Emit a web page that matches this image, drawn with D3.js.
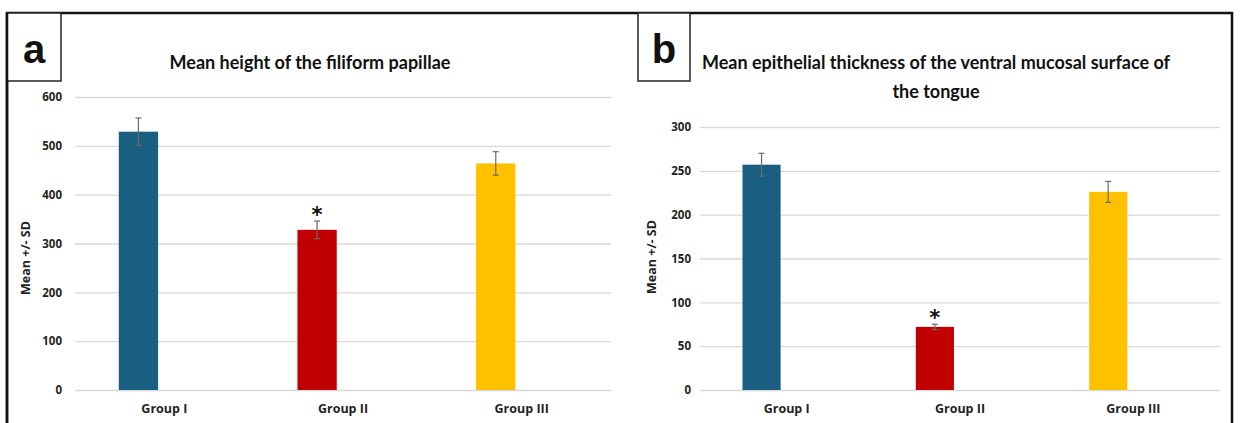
<!DOCTYPE html>
<html>
<head>
<meta charset="utf-8">
<script src="https://cdn.jsdelivr.net/npm/d3@7"></script>
<style>
  body { margin: 0; background: #fff; }
  svg { display: block; }
  .tick text { font-family: "Open Sans", sans-serif; font-weight: 700; fill: #1f1f1f; }
</style>
</head>
<body>
<svg id="chart" width="1242" height="423"></svg>
<script>
// categories + series
const GROUPS = ["Group I", "Group II", "Group III"]
const BAR_COLORS = ["#1a5e82", "#c00000", "#ffc000"]
const SIGNIFICANT = [false, true, false]

// panel a: filiform papillae height
const heightMeans = [529, 328, 464]
const heightSDs = [28, 18, 24]
const heightTicks = [0, 100, 200, 300, 400, 500, 600]

// panel b: ventral epithelium thickness
const thicknessMeans = [257, 72, 226]
const thicknessSDs = [13, 3, 12]
const thicknessTicks = [0, 50, 100, 150, 200, 250, 300]

const svg = d3.select("#chart")

//Outer frame (open at the bottom, like the cropped figure)
svg.append("path")
  .attr("d", "M7,423 L7,13 L1232,13 L1232,423")
  .attr("fill", "none")
  .attr("stroke", "#111")
  .attr("stroke-width", 2.5)

function drawPanel(p){
  var g = svg.append("g")

  var x = d3.scaleBand().domain(GROUPS).range([p.left, p.right])
  var y = d3.scaleLinear().domain([0, d3.max(p.ticks)]).range([p.bottom, p.top])

  //gridlines + y tick labels
  var yAxis = g.append("g")
    .attr("transform", "translate(" + p.left + ",0)")
    .call(d3.axisLeft(y).tickValues(p.ticks).tickSize(-(p.right - p.left)).tickPadding(p.tickPad))
  yAxis.select(".domain").remove()
  yAxis.selectAll(".tick line").attr("stroke", "#d9d9d9").attr("stroke-width", 1.3)
  yAxis.selectAll(".tick text").attr("font-size", 11.5)

  //category labels
  var xAxis = g.append("g")
    .attr("transform", "translate(0," + p.bottom + ")")
    .call(d3.axisBottom(x).tickSize(0).tickPadding(14))
  xAxis.select(".domain").remove()
  xAxis.selectAll(".tick text").attr("font-size", 12.5)

  //bars sit left of the category centre (Excel cluster with one series)
  var bw = x.bandwidth()
  var barX = i => x(GROUPS[i]) + bw * 0.245
  var barW = bw * 0.22

  g.selectAll("rect.bar")
    .data(p.means)
    .enter()
    .append("rect")
      .attr("class", "bar")
      .attr("x", (d, i) => barX(i))
      .attr("width", barW)
      .attr("y", d => y(d))
      .attr("height", d => y(0) - y(d))
      .attr("fill", (d, i) => BAR_COLORS[i])

  //error bars
  p.means.forEach((m, i) => {
    var cx = barX(i) + barW / 2
    var sd = p.sds[i]
    var eb = g.append("g").attr("stroke", "#6b6b6b").attr("stroke-width", 1.2)
    eb.append("line").attr("x1", cx).attr("x2", cx).attr("y1", y(m - sd)).attr("y2", y(m + sd))
    eb.append("line").attr("x1", cx - 3).attr("x2", cx + 3).attr("y1", y(m + sd)).attr("y2", y(m + sd))
    eb.append("line").attr("x1", cx - 3).attr("x2", cx + 3).attr("y1", y(m - sd)).attr("y2", y(m - sd))

    if(SIGNIFICANT[i]){
      g.append("text")
        .attr("x", cx)
        .attr("y", y(m + sd) + 1)
        .attr("text-anchor", "middle")
        .attr("font-family", "DejaVu Sans, sans-serif")
        .attr("font-weight", "bold")
        .attr("font-size", 21)
        .attr("fill", "#111")
        .text("*")
    }
  })

  //y axis title
  g.append("text")
    .attr("transform", "translate(" + p.yTitleX + "," + p.yTitleY + ")rotate(-90)")
    .attr("text-anchor", "middle")
    .attr("font-family", "Open Sans, sans-serif")
    .attr("font-weight", 700)
    .attr("font-size", 12.5)
    .attr("fill", "#1f1f1f")
    .text("Mean +/- SD")

  //chart title
  p.title.forEach((line, k) => {
    g.append("text")
      .attr("x", p.titleX)
      .attr("y", p.titleY + k * 29)
      .attr("text-anchor", "middle")
      .attr("font-family", "Lato, sans-serif")
      .attr("font-weight", "bold")
      .attr("font-size", 18)
      .attr("fill", "#111")
      .text(line)
  })

  //panel letter box
  g.append("rect")
    .attr("x", p.boxX).attr("y", 13)
    .attr("width", p.boxW).attr("height", 68)
    .attr("fill", "#fff")
    .attr("stroke", "#222")
    .attr("stroke-width", 1.5)
  g.append("text")
    .attr("x", p.boxX + p.boxW / 2)
    .attr("y", 63)
    .attr("text-anchor", "middle")
    .attr("font-family", "Liberation Sans, Arial, sans-serif")
    .attr("font-weight", "bold")
    .attr("font-size", 40)
    .attr("fill", "#111")
    .text(p.letter)
}

drawPanel({
  letter: "a", boxX: 7, boxW: 54,
  title: ["Mean height of the filiform papillae"], titleX: 310, titleY: 69,
  means: heightMeans, sds: heightSDs, ticks: heightTicks,
  left: 75, right: 611, top: 97, bottom: 390, tickPad: 13,
  yTitleX: 30, yTitleY: 258
})

drawPanel({
  letter: "b", boxX: 638, boxW: 52,
  title: ["Mean epithelial thickness of the ventral mucosal surface of", "the tongue"], titleX: 936, titleY: 69,
  means: thicknessMeans, sds: thicknessSDs, ticks: thicknessTicks,
  left: 700, right: 1220, top: 127, bottom: 390, tickPad: 9,
  yTitleX: 656, yTitleY: 257
})

//re-draw the frame's left edge over panel a's letter box
svg.append("line")
  .attr("x1", 7).attr("x2", 7).attr("y1", 13).attr("y2", 423)
  .attr("stroke", "#111").attr("stroke-width", 2.5)
</script>
</body>
</html>
